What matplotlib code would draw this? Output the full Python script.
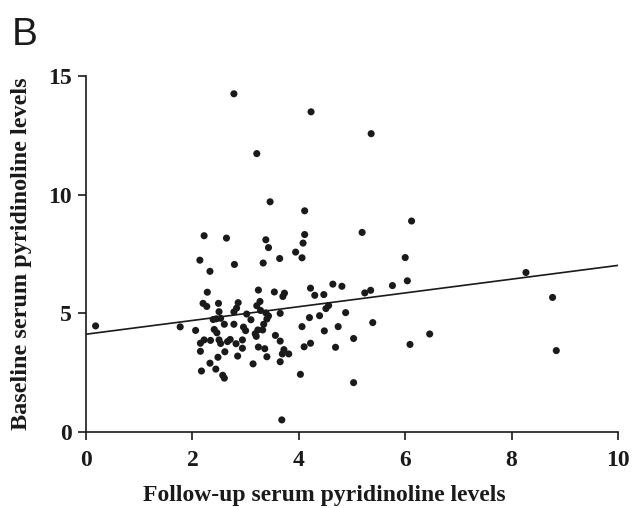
import numpy as np
import matplotlib
matplotlib.use("Agg")
import matplotlib.pyplot as plt

# Follow-up (x) vs baseline (y) serum pyridinoline levels
followup = [2.78, 4.23, 3.21, 3.46, 4.11, 5.36, 6.12, 5.19, 2.22, 2.64,
            3.38, 3.43, 4.11, 4.08, 3.94, 4.06, 3.64, 3.33, 2.79, 2.14,
            2.33, 6.00, 8.27, 6.04, 5.76, 4.64, 4.81, 5.24, 5.35, 4.22,
            4.30, 4.47, 4.51, 4.56, 4.88, 2.28, 2.20, 2.27, 2.49, 2.50,
            2.86, 2.83, 2.78, 3.02, 3.21, 3.27, 3.24, 3.28, 3.54, 3.73,
            3.70, 3.65, 3.43, 3.38, 8.77, 0.18, 5.39, 4.39, 4.20, 4.06,
            4.74, 4.48, 3.40, 3.34, 3.10, 2.96, 3.00, 3.23, 3.18, 2.78,
            2.60, 2.39, 2.45, 2.53, 2.41, 2.46, 1.77, 2.06, 3.56, 6.46,
            3.20, 3.65, 2.22, 2.15, 2.34, 2.50, 2.53, 2.66, 2.71, 2.82,
            2.94, 2.94, 3.24, 3.36, 3.40, 3.72, 3.81, 3.69, 3.65, 4.10,
            4.22, 4.69, 5.03, 6.09, 8.84, 2.15, 2.48, 2.61, 2.85, 3.14,
            2.33, 2.17, 2.44, 2.57, 2.60, 4.03, 5.03, 3.68, 3.32]
baseline = [14.25, 13.49, 11.73, 9.70, 9.32, 12.57, 8.89, 8.41, 8.27, 8.17,
            8.10, 7.77, 8.32, 7.96, 7.58, 7.34, 7.31, 7.12, 7.06, 7.24,
            6.77, 7.35, 6.72, 6.37, 6.17, 6.23, 6.14, 5.86, 5.97, 6.06,
            5.76, 5.79, 5.20, 5.33, 5.03, 5.89, 5.42, 5.29, 5.42, 5.07,
            5.45, 5.22, 5.06, 4.97, 5.32, 5.50, 5.98, 5.12, 5.90, 5.85,
            5.71, 5.00, 4.89, 5.02, 5.67, 4.47, 4.61, 4.90, 4.82, 4.44,
            4.44, 4.26, 4.76, 4.54, 4.73, 4.42, 4.27, 4.30, 4.14, 4.54,
            4.54, 4.74, 4.77, 4.79, 4.32, 4.18, 4.43, 4.28, 4.07, 4.13,
            4.03, 3.83, 3.88, 3.74, 3.86, 3.88, 3.73, 3.81, 3.90, 3.72,
            3.88, 3.53, 3.58, 3.51, 3.17, 3.47, 3.29, 3.29, 2.96, 3.59,
            3.74, 3.57, 3.94, 3.69, 3.43, 3.40, 3.15, 3.38, 3.20, 2.87,
            2.90, 2.57, 2.65, 2.39, 2.27, 2.43, 2.08, 0.51, 4.30]

# regression line end points
line_x = [0, 10]
line_y = [4.12, 7.02]

xticks = [0, 2, 4, 6, 8, 10]
yticks = [0, 5, 10, 15]

serif = "Liberation Serif"
ink = "#1a1a1a"

fig = plt.figure(figsize=(6.33, 5.08), dpi=100)
ax = fig.add_axes([0.1359, 0.1496, 0.8404, 0.7008])

ax.scatter(followup, baseline, s=26, color=ink, edgecolors="none", zorder=3)
ax.plot(line_x, line_y, color=ink, lw=1.2, zorder=2)

ax.set_xlim(0, 10)
ax.set_ylim(0, 15)
ax.set_xticks(xticks)
ax.set_yticks(yticks)
for s in ["top", "right"]:
    ax.spines[s].set_visible(False)
for s in ["left", "bottom"]:
    ax.spines[s].set_linewidth(1.2)
    ax.spines[s].set_color(ink)
ax.tick_params(direction="out", length=6, width=1.2, color=ink)
ax.tick_params(axis="x", pad=7)
ax.tick_params(axis="y", pad=4)
for lab in ax.get_xticklabels() + ax.get_yticklabels():
    lab.set_fontfamily(serif)
    lab.set_fontweight("bold")
    lab.set_fontsize(17)
    lab.set_color(ink)

ax.set_xlabel("Follow-up serum pyridinoline levels", fontfamily=serif,
              fontweight="bold", fontsize=17, color=ink)
ax.xaxis.set_label_coords(0.447, -0.148)
ax.set_ylabel("Baseline serum pyridinoline levels", fontfamily=serif,
              fontweight="bold", fontsize=17.5, color=ink, labelpad=12)

fig.text(0.019, 0.911, "B", fontfamily="Liberation Sans", fontsize=28,
         color=ink, ha="left", va="baseline")

fig.savefig("out.png", dpi=100)
